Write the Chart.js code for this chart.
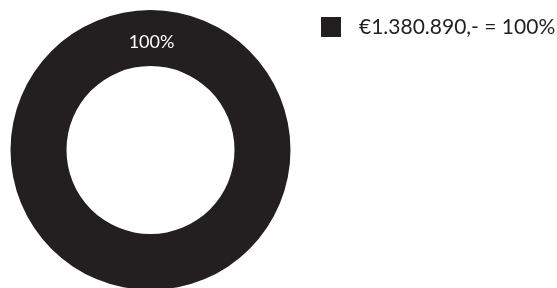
<!DOCTYPE html>
<html lang="nl">
<head>
    <meta charset="UTF-8">
    <title>Begroting</title>
    <script src="https://cdn.jsdelivr.net/npm/chart.js"></script>
    <style>
        html, body { margin: 0; padding: 0; background: #fff; overflow: hidden; }
        #donut { display: block; }
    </style>
</head>
<body>
    <canvas id="donut" width="557" height="300"></canvas>
    <script>
        // chart data
        var categories = ['€1.380.890,-'];
        var amounts = [1380890];
        var colours = ['#231f20'];

        function percentOf(i) {
            var total = amounts.reduce(function (a, b) { return a + b; }, 0);
            return Math.round(amounts[i] / total * 100) + '%';
        }

        // legend at the right, drawn from the data labels and colours
        var sideLegend = {
            id: 'sideLegend',
            afterDraw: function (chart) {
                var ctx = chart.ctx;
                var ds = chart.data.datasets[0];
                ctx.save();
                chart.data.labels.forEach(function (label, i) {
                    var y = 17 + i * 30;
                    ctx.fillStyle = ds.backgroundColor[i];
                    ctx.fillRect(321, y, 20, 20);
                    ctx.fillStyle = '#231f20';
                    ctx.font = '21px Lato';
                    ctx.textBaseline = 'middle';
                    ctx.textAlign = 'left';
                    ctx.fillText(label + ' = ' + percentOf(i), 359, y + 10);
                });
                ctx.restore();
            }
        };

        // percentage written on the ring, at the start of each slice
        var sliceLabels = {
            id: 'sliceLabels',
            afterDatasetsDraw: function (chart) {
                var ctx = chart.ctx;
                var meta = chart.getDatasetMeta(0);
                ctx.save();
                meta.data.forEach(function (arc, i) {
                    var p = arc.getProps(['x', 'y', 'startAngle', 'innerRadius', 'outerRadius'], true);
                    var r = (p.innerRadius + p.outerRadius) / 2;
                    var x = p.x + Math.cos(p.startAngle) * r;
                    var y = p.y + Math.sin(p.startAngle) * r;
                    ctx.fillStyle = '#ffffff';
                    ctx.font = '18px Lato';
                    ctx.textAlign = 'center';
                    ctx.textBaseline = 'middle';
                    ctx.fillText(percentOf(i), x + 1, y + 4);
                });
                ctx.restore();
            }
        };

        var chart = new Chart(document.getElementById('donut').getContext('2d'), {
            type: 'doughnut',
            data: {
                labels: categories,
                datasets: [{
                    data: amounts,
                    backgroundColor: colours,
                    borderWidth: 0
                }]
            },
            options: {
                responsive: false,
                animation: false,
                devicePixelRatio: 1,
                cutout: '60%',
                layout: { padding: { left: 10, top: 10, bottom: 10, right: 266 } },
                plugins: {
                    legend: { display: false },
                    tooltip: { enabled: false }
                }
            },
            plugins: [sideLegend, sliceLabels]
        });
    </script>
</body>
</html>
